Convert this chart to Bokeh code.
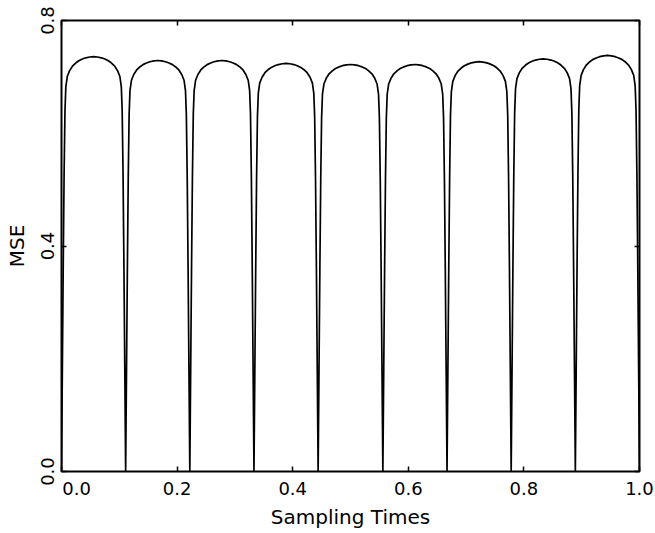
import math
from bokeh.plotting import figure
from bokeh.models import Range1d, LinearAxis, FixedTicker
from bokeh.embed import file_html
from bokeh.resources import INLINE

# ---- data ----
# times at which the MSE drops to zero (sampling instants)
zero_times = [0.0, 0.111, 0.222, 0.333, 0.444, 0.556, 0.667, 0.778, 0.889, 1.0]
# peak MSE of each arch between consecutive sampling instants
arch_peaks = [0.736, 0.729, 0.729, 0.724, 0.722, 0.722, 0.727, 0.732, 0.738]
# arch edge profile read near a zero: distance from the zero and fraction of the peak
edge_offsets = [0.0, 0.0015, 0.003, 0.0045, 0.006, 0.0075, 0.010, 0.014,
                0.019, 0.025, 0.030, 0.036, 0.042, 0.049]
edge_fracs = [0.0, 0.248, 0.497, 0.717, 0.869, 0.927, 0.952, 0.966,
              0.977, 0.985, 0.990, 0.994, 0.997, 0.999]

x_ticks = [0.0, 0.2, 0.4, 0.6, 0.8, 1.0]
x_tick_labels = ["0.0", "0.2", "0.4", "0.6", "0.8", "1.0"]
y_ticks = [0.0, 0.4, 0.8]
y_tick_labels = ["0.0", "0.4", "0.8"]

# ---- build curve from the read values ----
xs, ys = [], []
for k, peak in enumerate(arch_peaks):
    a, b = zero_times[k], zero_times[k + 1]
    for d, f in zip(edge_offsets, edge_fracs):
        xs.append(a + d)
        ys.append(peak * f)
    xs.append((a + b) / 2)
    ys.append(peak)
    for d, f in reversed(list(zip(edge_offsets, edge_fracs))):
        if k < len(arch_peaks) - 1 and d == 0.0:
            continue
        xs.append(b - d)
        ys.append(peak * f)

FONT = "DejaVu Sans"
FIRST_LABEL_SHIFT = 0.026  # the "0.0" label sits right of its tick in the original

p = figure(width=655, height=533, output_backend="svg", toolbar_location=None,
           x_range=Range1d(0, 1.0), y_range=Range1d(0, 0.8),
           min_border_left=61, min_border_right=16, min_border_top=20,
           min_border_bottom=62, x_axis_location=None, y_axis_location=None)
p.grid.visible = False
p.outline_line_color = "black"
p.outline_line_width = 2
p.background_fill_color = "white"
p.border_fill_color = "white"


def tick_axis(ticks, place):
    ax = LinearAxis(ticker=FixedTicker(ticks=ticks))
    ax.major_tick_in = 5
    ax.major_tick_out = 0
    ax.minor_tick_in = 0
    ax.minor_tick_out = 0
    ax.major_tick_line_color = "black"
    ax.major_tick_line_width = 1.5
    ax.axis_line_color = None
    ax.major_label_text_font_size = "0px"
    ax.major_label_standoff = 0
    ax.major_label_text_alpha = 0
    p.add_layout(ax, place)


# bottom: tick marks only, then labels axis stacked below
tick_axis(x_ticks, "below")
lab_pos = [v + FIRST_LABEL_SHIFT if v == 0.0 else v for v in x_ticks]
xlab = LinearAxis(ticker=FixedTicker(ticks=lab_pos))
xlab.major_label_overrides = {pos: t for pos, t in zip(lab_pos, x_tick_labels)}
xlab.major_tick_line_color = None
xlab.minor_tick_line_color = None
xlab.axis_line_color = None
xlab.major_tick_in = 0
xlab.major_tick_out = 0
xlab.major_label_standoff = 10
xlab.major_label_text_font = FONT
xlab.major_label_text_font_size = "18px"
xlab.major_label_text_color = "black"
xlab.axis_label = "Sampling Times"
xlab.axis_label_text_font = FONT
xlab.axis_label_text_font_size = "20px"
xlab.axis_label_text_font_style = "normal"
xlab.axis_label_text_color = "black"
xlab.axis_label_standoff = 7
p.add_layout(xlab, "below")

tick_axis(x_ticks, "above")
tick_axis(y_ticks, "right")

ylab = LinearAxis(ticker=FixedTicker(ticks=y_ticks))
ylab.major_label_overrides = {v: t for v, t in zip(y_ticks, y_tick_labels)}
ylab.major_tick_in = 5
ylab.major_tick_out = 0
ylab.minor_tick_in = 0
ylab.minor_tick_out = 0
ylab.major_tick_line_color = "black"
ylab.major_tick_line_width = 1.5
ylab.axis_line_color = None
ylab.major_label_orientation = "vertical"
ylab.major_label_standoff = 8
ylab.major_label_text_font = FONT
ylab.major_label_text_font_size = "18px"
ylab.major_label_text_color = "black"
ylab.axis_label = "MSE"
ylab.axis_label_text_font = FONT
ylab.axis_label_text_font_size = "20px"
ylab.axis_label_text_font_style = "normal"
ylab.axis_label_text_color = "black"
ylab.axis_label_standoff = 9
p.add_layout(ylab, "left")

p.line(xs, ys, line_color="black", line_width=1.7)

open("out.html", "w").write(file_html(p, INLINE))
